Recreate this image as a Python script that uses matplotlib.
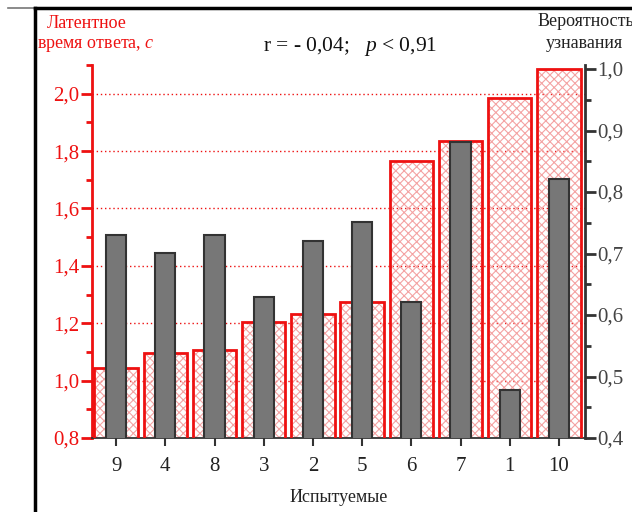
import matplotlib
matplotlib.use("Agg")
import matplotlib.pyplot as plt
import numpy as np
from matplotlib.lines import Line2D

plt.rcParams['font.family'] = ['Liberation Serif', 'DejaVu Serif']
plt.rcParams['mathtext.fontset'] = 'custom'
plt.rcParams['mathtext.rm'] = 'Liberation Serif'
plt.rcParams['mathtext.it'] = 'Liberation Serif:italic'
plt.rcParams['hatch.linewidth'] = 0.8

# subjects (x order), latent answer time (s), recognition probability
subjects = ['9', '4', '8', '3', '2', '5', '6', '7', '1', '10']
latency = [1.045, 1.097, 1.107, 1.205, 1.233, 1.275, 1.765, 1.835, 1.985, 2.085]
prob = [0.730, 0.701, 0.730, 0.629, 0.720, 0.751, 0.621, 0.882, 0.478, 0.821]

red = '#ee1111'
dark = '#333333'

fig = plt.figure(figsize=(6.32, 5.12), dpi=100)
ax = fig.add_axes([0.1456, 0.1445, 0.78, 0.7285])
ax2 = ax.twinx()

x = np.arange(len(subjects))
ax.set_xlim(-0.49, 9.53)
ax.set_ylim(0.8, 2.1)
ax2.set_ylim(0.4, 1.0065)

# red hatched bars (left axis)
ax.bar(x, latency, width=0.88, facecolor='none', edgecolor='#f4a3a3',
       hatch='xxxx', linewidth=0, zorder=2)
ax.bar(x, latency, width=0.88, facecolor='none', edgecolor=red, linewidth=2, zorder=3)

# grey bars (right axis)
ax2.bar(x, prob, width=0.41, color='#777777', edgecolor=dark, linewidth=1.5, zorder=3)

# grid
for yv in [1.0, 1.2, 1.4, 1.6, 1.8, 2.0]:
    ax.axhline(yv, color=red, linestyle=(0, (1, 2)), linewidth=1, zorder=1)

# spines
for a in (ax, ax2):
    a.spines['top'].set_visible(False)
ax.spines['left'].set_color(red)
ax.spines['left'].set_linewidth(2)
ax.spines['right'].set_visible(False)
ax2.spines['left'].set_visible(False)
ax2.spines['right'].set_color(dark)
ax2.spines['right'].set_linewidth(2)
ax2.spines['bottom'].set_visible(False)
ax.spines['bottom'].set_color(dark)
ax.spines['bottom'].set_linewidth(1.3)

# ticks
ax.set_xticks(x)
ax.set_xticklabels(subjects)
ax.tick_params(axis='x', direction='out', length=6, width=1.5, color=dark, labelsize=15,
               labelcolor='#222222', pad=8)
ax.set_yticks(np.arange(0.8, 2.01, 0.2))
ax.set_yticks(np.arange(0.9, 2.11, 0.2), minor=True)
ax.set_yticklabels(['0,8', '1,0', '1,2', '1,4', '1,6', '1,8', '2,0'])
ax.tick_params(axis='y', which='major', direction='out', length=8, width=2, color=red,
               labelcolor=red, labelsize=15, pad=1)
ax.tick_params(axis='y', which='minor', direction='out', length=4, width=2, color=red)

ax2.set_yticks(np.arange(0.4, 1.001, 0.1))
ax2.set_yticks(np.arange(0.45, 0.96, 0.1), minor=True)
ax2.set_yticklabels(['0,4', '0,5', '0,6', '0,7', '0,8', '0,9', '1,0'])
ax2.tick_params(axis='y', which='major', direction='out', length=8, width=2, color=dark,
                labelcolor='#444444', labelsize=15, pad=1)
ax2.tick_params(axis='y', which='minor', direction='out', length=4, width=2, color=dark)

ax.set_xlabel('Испытуемые', fontsize=13, color='#222222', labelpad=9)

# axis titles
fig.text(87 / 632, 1 - 23 / 512, 'Латентное', color=red, fontsize=13, ha='center', va='center')
fig.text(37 / 632, 1 - 46 / 512, r'время ответа, $\mathit{с}$', color=red, fontsize=13,
         ha='left', va='center')
fig.text(538 / 632, 1 - 21 / 512, 'Вероятность', color='#222222', fontsize=13,
         ha='left', va='center')
fig.text(584 / 632, 1 - 43 / 512, 'узнавания', color='#222222', fontsize=13,
         ha='center', va='center')
fig.text(350 / 632, 1 - 47 / 512, r'r = - 0,04;   $\mathit{p}$ < 0,91', color='#111111',
         fontsize=15.5, ha='center', va='center')

# frame lines of the page
fig.add_artist(Line2D([8 / 632, 35 / 632], [1 - 8 / 512] * 2, color='#777777', linewidth=1.2))
fig.add_artist(Line2D([35 / 632, 1], [1 - 8 / 512] * 2, color='black', linewidth=2.5))
fig.add_artist(Line2D([35 / 632] * 2, [0, 1 - 8 / 512], color='black', linewidth=2.5))

fig.savefig('out.png', dpi=100)
